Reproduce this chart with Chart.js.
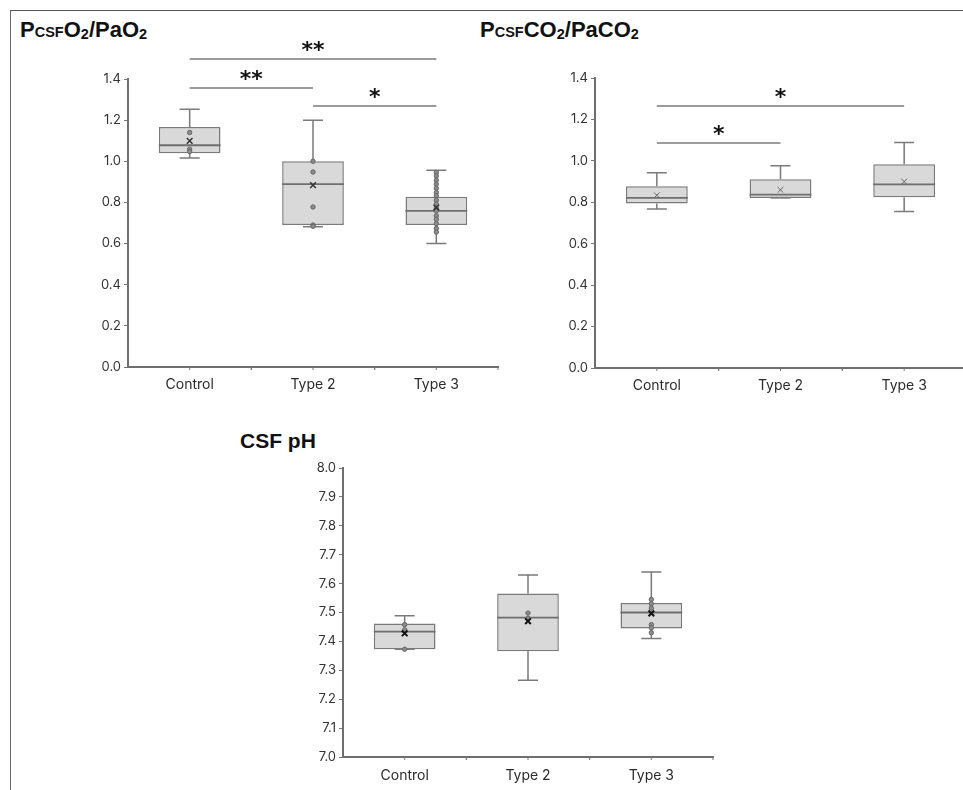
<!DOCTYPE html>
<html>
<head>
<meta charset="utf-8">
<title>CSF gas ratios and pH</title>
<script src="https://cdn.jsdelivr.net/npm/chart.js@4.4.1/dist/chart.umd.min.js"></script>
<style>
  html, body { margin: 0; padding: 0; background: #fff; width: 963px; height: 790px; overflow: hidden; position: relative; }
  .frame { position: absolute; left: 10px; top: 10px; right: -4px; bottom: -4px; border-top: 1.5px solid #555; border-left: 1.5px solid #6a6a6a; }
  .ttl { position: absolute; font: bold 22px "Liberation Sans", Arial, sans-serif; line-height: 22px; color: #111; white-space: nowrap; }
  .ttl .sc { font-size: 14.5px; }
  .ttl sub { font-size: 14.5px; vertical-align: -2px; line-height: 0; }
  canvas { position: absolute; }
</style>
</head>
<body>
<div class="frame"></div>
<div class="ttl" style="left:20px;top:19px">P<span class="sc">CSF</span>O<sub>2</sub>/PaO<sub>2</sub></div>
<div class="ttl" style="left:480px;top:19px">P<span class="sc">CSF</span>CO<sub>2</sub>/PaCO<sub>2</sub></div>
<div class="ttl" style="left:240px;top:430px;font-size:21px">CSF pH</div>

<canvas id="o2Chart" width="500" height="420" style="left:0;top:0"></canvas>
<canvas id="co2Chart" width="500" height="420" style="left:480px;top:0"></canvas>
<canvas id="phChart" width="520" height="370" style="left:220px;top:420px"></canvas>

<script>
//  Data 
const GROUPS = ['Control', 'Type 2', 'Type 3'];

// PcsfO2 / PaO2
const o2Min    = [1.016, 0.682, 0.600];
const o2Q1     = [1.039, 0.690, 0.690];
const o2Median = [1.078, 0.889, 0.759];
const o2Q3     = [1.167, 1.000, 0.828];
const o2Max    = [1.253, 1.200, 0.957];
const o2Mean   = [1.099, 0.884, 0.775];
const o2Points = [
  [1.14, 1.059, 1.047],
  [1.00, 0.948, 0.778, 0.690, 0.684],
  [0.945, 0.929, 0.908, 0.889, 0.869, 0.848, 0.832, 0.811, 0.791, 0.772, 0.759, 0.735, 0.718, 0.697, 0.674, 0.656]
];
const o2Yticks = [0, 1.4, 0.2];

// PcsfCO2 / PaCO2
const co2Min    = [0.767, 0.821, 0.756];
const co2Q1     = [0.794, 0.821, 0.824];
const co2Median = [0.821, 0.837, 0.886];
const co2Q3     = [0.877, 0.911, 0.984];
const co2Max    = [0.943, 0.976, 1.089];
const co2Mean   = [0.834, 0.860, 0.900];
const co2Yticks = [0, 1.4, 0.2];

// CSF pH
const phMin    = [7.373, 7.266, 7.410];
const phQ1     = [7.373, 7.366, 7.445];
const phMedian = [7.434, 7.482, 7.500];
const phQ3     = [7.462, 7.566, 7.533];
const phMax    = [7.489, 7.630, 7.640];
const phMean   = [7.428, 7.470, 7.497];
const phPoints = [
  [7.458, 7.440, 7.373],
  [7.498, 7.480],
  [7.545, 7.530, 7.515, 7.458, 7.447, 7.430]
];
const phYticks = [7.0, 8.0, 0.1];

// significance brackets: [from group, to group, level, label]
const o2Sig  = [[0, 2, 1.497, '**'], [0, 1, 1.356, '**'], [1, 2, 1.269, '*']];
const co2Sig = [[0, 2, 1.265, '*'], [0, 1, 1.086, '*']];

//  Box plot plugin (whiskers, medians, x ticks, brackets) 
const boxPlot = {
  id: 'boxPlot',
  beforeDatasetsDraw(chart, args, o) {
    const { ctx, scales: { x, y } } = chart;
    ctx.save();
    ctx.strokeStyle = '#7a7a7a';
    ctx.lineWidth = 1.5;
    o.min.forEach((lo, i) => {
      const cx = x.getPixelForValue(i);
      [[lo, o.q1[i]], [o.max[i], o.q3[i]]].forEach(([end, edge]) => {
        const ye = y.getPixelForValue(end);
        ctx.beginPath();
        ctx.moveTo(cx, y.getPixelForValue(edge));
        ctx.lineTo(cx, ye);
        ctx.moveTo(cx - 10, ye);
        ctx.lineTo(cx + 10, ye);
        ctx.stroke();
      });
    });
    ctx.restore();
  },
  afterDatasetDraw(chart, args, o) {
    if (args.index !== 0) return;
    const { ctx, scales: { y } } = chart;
    ctx.save();
    ctx.strokeStyle = '#6e6e6e';
    ctx.lineWidth = 1.8;
    args.meta.data.forEach((bar, i) => {
      const ym = y.getPixelForValue(o.median[i]);
      ctx.beginPath();
      ctx.moveTo(bar.x - bar.width / 2, ym);
      ctx.lineTo(bar.x + bar.width / 2, ym);
      ctx.stroke();
    });
    ctx.restore();
  },
  afterDraw(chart, args, o) {
    const { ctx, scales: { x, y }, chartArea } = chart;
    ctx.save();
    // small ticks at centres and between groups
    const half = (x.getPixelForValue(1) - x.getPixelForValue(0)) / 2;
    ctx.strokeStyle = '#777';
    ctx.lineWidth = 1;
    GROUPS.forEach((g, i) => {
      [-half, 0, half].forEach(d => {
        const px = x.getPixelForValue(i) + d;
        if (px <= chartArea.left + 1) return;
        ctx.beginPath();
        ctx.moveTo(px, chartArea.bottom);
        ctx.lineTo(px, chartArea.bottom + 3);
        ctx.stroke();
      });
    });
    // significance brackets
    (o.sig || []).forEach(([a, b, lvl, txt]) => {
      const yy = y.getPixelForValue(lvl);
      ctx.strokeStyle = '#7a7a7a';
      ctx.lineWidth = 1.5;
      ctx.beginPath();
      ctx.moveTo(x.getPixelForValue(a), yy);
      ctx.lineTo(x.getPixelForValue(b), yy);
      ctx.stroke();
      ctx.fillStyle = '#111';
      ctx.font = 'bold 22px "DejaVu Sans", sans-serif';
      ctx.textAlign = 'center';
      ctx.textBaseline = 'alphabetic';
      const m = ctx.measureText(txt);
      const mid = (m.actualBoundingBoxAscent - m.actualBoundingBoxDescent) / 2;
      ctx.fillText(txt, (x.getPixelForValue(a) + x.getPixelForValue(b)) / 2, yy - 13 + mid);
    });
    ctx.restore();
  }
};

function flatten(points) {
  const out = [];
  points.forEach((list, i) => list.forEach(v => out.push({ x: GROUPS[i], y: v })));
  return out;
}

function buildBoxChart(id, s) {
  const datasets = [{
    type: 'bar',
    data: s.q1.map((v, i) => [v, s.q3[i]]),
    backgroundColor: '#d9d9d9',
    borderColor: '#7a7a7a',
    borderWidth: 1.5,
    borderSkipped: false,
    barPercentage: 0.5,
    categoryPercentage: 1,
    order: 3
  }];
  if (s.points) {
    datasets.push({
      type: 'scatter',
      data: flatten(s.points),
      pointRadius: 2.2,
      backgroundColor: '#8c8c8c',
      borderColor: '#666',
      borderWidth: 1,
      order: 2
    });
  }
  datasets.push({
    type: 'scatter',
    data: s.mean.map((v, i) => ({ x: GROUPS[i], y: v })),
    pointStyle: 'crossRot',
    pointRadius: 4,
    borderColor: s.meanColor,
    borderWidth: s.meanWidth,
    order: 1
  });

  return new Chart(document.getElementById(id), {
    type: 'bar',
    data: { labels: GROUPS, datasets },
    plugins: [boxPlot],
    options: {
      responsive: false,
      animation: false,
      layout: { padding: s.padding, autoPadding: false },
      plugins: {
        legend: { display: false },
        tooltip: { enabled: false },
        boxPlot: { min: s.min, q1: s.q1, median: s.median, q3: s.q3, max: s.max, sig: s.sig }
      },
      scales: {
        x: {
          afterFit: sc => { sc.height = s.xHeight; },
          grid: { display: false, drawTicks: false },
          border: { color: '#6e6e6e', width: 2 },
          ticks: { color: '#2b2b2b', padding: s.xPad, font: { family: 'Inter', size: 14 } }
        },
        y: {
          min: s.yt[0], max: s.yt[1],
          afterFit: sc => { sc.width = s.yWidth; },
          grid: { drawOnChartArea: false, drawTicks: true, tickLength: 4, color: '#777', lineWidth: 1 },
          border: { color: '#6e6e6e', width: 2 },
          ticks: {
            stepSize: s.yt[2],
            padding: 3,
            color: '#333',
            font: { family: 'Inter', size: 13 },
            callback: v => Number(v).toFixed(1)
          }
        }
      }
    }
  });
}

buildBoxChart('o2Chart', {
  min: o2Min, q1: o2Q1, median: o2Median, q3: o2Q3, max: o2Max, mean: o2Mean,
  points: o2Points, sig: o2Sig, yt: o2Yticks,
  meanColor: '#333', meanWidth: 1.5,
  padding: { left: 0, top: 79, right: 2, bottom: 13 }, yWidth: 128, xHeight: 40, xPad: 9
});

buildBoxChart('co2Chart', {
  min: co2Min, q1: co2Q1, median: co2Median, q3: co2Q3, max: co2Max, mean: co2Mean,
  sig: co2Sig, yt: co2Yticks,
  meanColor: '#666', meanWidth: 1,
  padding: { left: 0, top: 78, right: 14, bottom: 12 }, yWidth: 115, xHeight: 40, xPad: 9
});

buildBoxChart('phChart', {
  min: phMin, q1: phQ1, median: phMedian, q3: phQ3, max: phMax, mean: phMean,
  points: phPoints, yt: phYticks,
  meanColor: '#111', meanWidth: 2,
  padding: { left: 0, top: 48, right: 27, bottom: 3 }, yWidth: 123, xHeight: 30, xPad: 10
});
</script>
</body>
</html>
